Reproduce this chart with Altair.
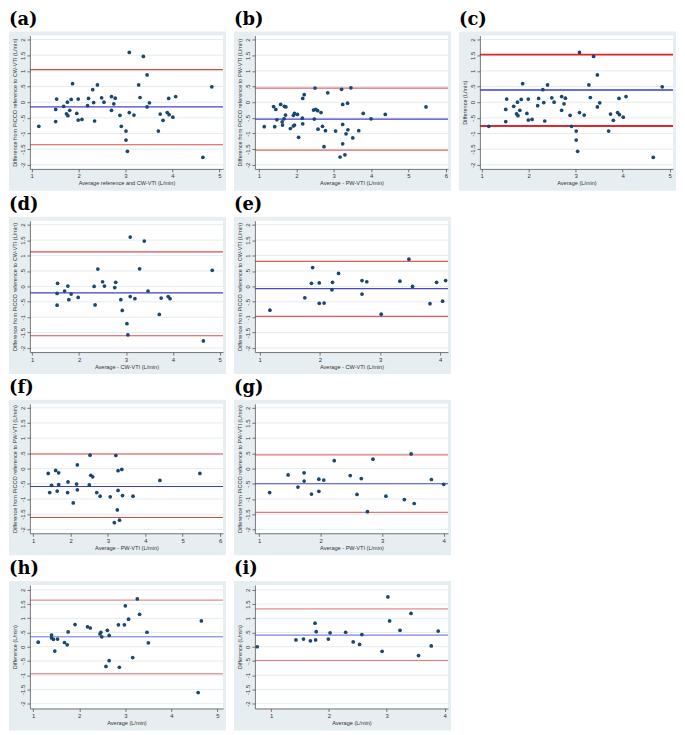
import altair as alt
import pandas as pd

# ---------------- data ----------------
a_x = [1.15, 1.51, 1.53, 1.51, 1.68, 1.74, 1.76, 1.77, 1.81, 1.84, 1.87, 1.96, 1.99, 1.99, 2.07,
       2.19, 2.21, 2.30, 2.32, 2.34, 2.40, 2.49, 2.54, 2.70, 2.70, 2.75, 2.78, 2.88, 2.91, 3.01,
       3.01, 3.04, 3.08, 3.08, 3.18, 3.28, 3.31, 3.38, 3.46, 3.46, 3.51, 3.70, 3.74, 3.80, 3.89,
       3.92, 3.93, 4.01, 4.07, 4.65, 4.84]
a_y = [-0.77, -0.23, 0.10, -0.62, -0.13, -0.37, 0.00, -0.43, -0.26, 0.09, 0.59, -0.36, 0.10, -0.57, -0.55,
       -0.11, 0.12, 0.40, -0.01, -0.60, 0.55, 0.14, 0.00, 0.18, -0.26, -0.05, 0.13, -0.42, -0.77, -0.92,
       -1.21, -1.57, 1.59, -0.33, -0.41, 0.55, 0.15, 1.46, 0.87, -0.15, -0.02, -0.92, -0.38, -0.58, -0.33,
       0.12, -0.40, -0.48, 0.18, -1.76, 0.49]
a_lines = [1.04, -0.15, -1.36]

b_x = [1.14, 1.39, 1.42, 1.45, 1.48, 1.58, 1.62, 1.63, 1.67, 1.68, 1.72, 1.71, 1.84, 1.92, 1.92,
       1.95, 1.95, 2.03, 2.06, 2.16, 2.17, 2.17, 2.21, 2.46, 2.48, 2.50, 2.52, 2.57, 2.58, 2.66,
       2.70, 2.74, 2.78, 2.84, 3.05, 3.17, 3.21, 3.24, 3.24, 3.24, 3.30, 3.33, 3.37, 3.38, 3.46,
       3.51, 3.67, 3.79, 4.00, 4.38, 5.47]
b_y = [-0.78, -0.14, -0.78, -0.23, -0.56, -0.07, -0.63, -0.73, -0.53, -0.13, -0.15, -0.41, -0.84, -0.42, -0.76,
       -0.36, -0.73, -0.39, -1.12, -0.51, -0.69, 0.12, 0.24, -0.25, -0.54, 0.45, -0.23, -0.27, -0.86, -0.33,
       -0.77, -1.42, -0.91, 0.30, -0.92, -1.75, 0.41, -0.07, -0.71, -1.33, -1.68, -1.01, -0.03, -0.88, 0.46,
       -1.14, -0.91, -0.36, -0.53, -0.39, -0.15]
b_lines = [0.45, -0.54, -1.53]

c_x = list(a_x)
c_y = list(a_y)
c_lines = [1.52, 0.39, -0.76]

d_x = [1.54, 1.53, 1.53, 1.69, 1.76, 1.78, 1.83, 1.98, 2.32, 2.34, 2.40, 2.50, 2.54, 2.76, 2.78,
       2.89, 2.92, 3.02, 3.04, 3.09, 3.09, 3.19, 3.29, 3.39, 3.47, 3.71, 3.75, 3.90, 3.94, 4.65, 4.84]
d_y = [0.10, -0.23, -0.61, -0.15, 0.01, -0.43, -0.25, -0.36, 0.00, -0.60, 0.56, 0.15, 0.01, -0.04, 0.13,
       -0.43, -0.78, -1.21, -1.57, 1.60, -0.33, -0.40, 0.57, 1.47, -0.15, -0.91, -0.38, -0.33, -0.40, -1.77, 0.52]
d_lines = [1.12, -0.21, -1.60]

e_x = [1.17, 1.75, 1.86, 1.88, 1.99, 1.99, 2.07, 2.20, 2.21, 2.31, 2.70, 2.70, 2.78, 3.02, 3.33,
       3.48, 3.54, 3.83, 3.94, 4.04, 4.09]
e_y = [-0.77, -0.37, 0.10, 0.61, 0.11, -0.55, -0.54, -0.11, 0.13, 0.42, 0.19, -0.25, 0.15, -0.90, 0.17,
       0.88, 0.00, -0.56, 0.13, -0.48, 0.19]
e_lines = [0.81, -0.07, -0.97]

f_x = [1.40, 1.44, 1.49, 1.60, 1.64, 1.68, 1.68, 1.92, 1.93, 2.07, 2.16, 2.18, 2.18, 2.50, 2.52,
       2.54, 2.59, 2.70, 2.79, 3.06, 3.17, 3.21, 3.27, 3.27, 3.25, 3.31, 3.37, 3.39, 3.67, 4.39, 5.46]
f_y = [-0.16, -0.79, -0.55, -0.06, -0.74, -0.14, -0.53, -0.79, -0.44, -1.13, -0.51, 0.12, -0.70, -0.54, 0.44,
       -0.22, -0.27, -0.79, -0.91, -0.93, -1.78, 0.43, -0.07, -0.72, -1.36, -1.70, -0.03, -0.89, -0.91, -0.39, -0.16]
f_lines = [0.48, -0.59, -1.61]

g_x = [1.17, 1.47, 1.63, 1.73, 1.73, 1.85, 1.97, 1.97, 2.05, 2.22, 2.48, 2.59, 2.66, 2.76, 2.85,
       3.06, 3.36, 3.47, 3.52, 3.80, 4.00]
g_y = [-0.79, -0.21, -0.61, -0.14, -0.41, -0.84, -0.35, -0.75, -0.38, 0.26, -0.23, -0.85, -0.33, -1.42, 0.31,
       -0.91, -1.02, 0.48, -1.15, -0.36, -0.52]
g_lines = [0.45, -0.50, -1.44]

h_x = [1.11, 1.40, 1.40, 1.44, 1.47, 1.53, 1.68, 1.74, 1.76, 1.91, 2.18, 2.24, 2.45, 2.47, 2.49,
       2.61, 2.65, 2.58, 2.65, 2.85, 2.87, 2.98, 3.00, 3.07, 3.16, 3.26, 3.31, 3.47, 3.50, 4.58, 4.65]
h_y = [0.16, 0.41, 0.31, 0.26, -0.15, 0.27, 0.15, 0.07, 0.52, 0.78, 0.70, 0.66, 0.45, 0.51, 0.35,
       0.58, 0.40, -0.69, -0.49, 0.77, -0.72, 0.77, 1.44, 0.97, -0.38, 1.68, 1.14, 0.51, 0.14, -1.61, 0.91]
h_lines = [1.64, 0.35, -0.95]

i_x = [0.76, 1.43, 1.56, 1.68, 1.76, 1.78, 1.77, 1.99, 2.02, 2.29, 2.42, 2.53, 2.57, 2.92, 3.02,
       3.05, 3.23, 3.42, 3.55, 3.77, 3.89]
i_y = [0.00, 0.24, 0.27, 0.21, 0.83, 0.53, 0.24, 0.27, 0.49, 0.51, 0.17, 0.08, 0.43, -0.16, 1.75,
       0.91, 0.58, 1.17, -0.31, 0.03, 0.55]
i_lines = [1.33, 0.41, -0.48]

ytick_values = [-2, -1.5, -1, -0.5, 0, 0.5, 1, 1.5, 2]
ytick_labels = ["-2", "-1.5", "-1", "-.5", "0", ".5", "1", "1.5", "2"]

xt_title_a = "Average reference and CW-VTI (L/min)"
xt_title_pw = "Average - PW-VTI (L/min)"
xt_title_cw = "Average - CW-VTI (L/min)"
xt_title_avg = "Average (L/min)"
yt_title_cw = "Difference from PiCCO reference to CW-VTI (L/min)"
yt_title_pw = "Difference from PiCCO reference to PW-VTI (L/min)"
yt_title_diff = "Difference (L/min)"

# ---------------- styling ----------------
NAVY = "#1a476f"
FRAME = "#e7eef1"
GRID = "#e4ecef"
FONT = "Liberation Sans"
SERIF = "DejaVu Serif, serif"
W = 194
L_EXT, R_EXT, T_EXT, B_EXT = 21, 3, 4, 22

label_expr = " : ".join(
    f"datum.value == {v} ? '{lab}'" for v, lab in zip(ytick_values, ytick_labels)
) + " : datum.label"


def panel(letter, xs, ys, lines, xdom, xticks, xtitle, ytitle, H, ydom,
          red, blue, lw_red, lw_blue):
    xscale = alt.Scale(domain=xdom, nice=False, zero=False)
    yscale = alt.Scale(domain=ydom, nice=False, zero=False)
    common = dict(domainColor="#555555", domainWidth=0.8, tickColor="#555555", tickWidth=0.8,
                  tickSize=3, labelFont=FONT, labelFontSize=6, labelColor="#333333",
                  titleFont=FONT, titleFontSize=5.6, titleFontWeight="normal",
                  titleColor="#333333", titlePadding=2, grid=False, zindex=1,
                  labelFlush=False)
    xaxis = alt.Axis(values=xticks, title=xtitle, format="d", labelPadding=1, **common)
    yaxis = alt.Axis(values=ytick_values, title=ytitle, labelExpr=label_expr,
                     labelAngle=270, labelAlign="center", labelBaseline="bottom",
                     labelPadding=1, **common)

    def X(f):
        return alt.X(f, type="quantitative", scale=xscale, axis=xaxis)

    def Y(f):
        return alt.Y(f, type="quantitative", scale=yscale, axis=yaxis)

    one = alt.Data(values=[{"o": 1}])
    frame = alt.Chart(one).mark_rect(color=FRAME).encode(
        x=alt.value(-L_EXT), x2=alt.value(W + R_EXT),
        y=alt.value(-T_EXT), y2=alt.value(H + B_EXT))
    plot_bg = alt.Chart(one).mark_rect(color="white").encode(
        x=alt.value(0), x2=alt.value(W), y=alt.value(0), y2=alt.value(H))
    grid = alt.Chart(pd.DataFrame({"v": ytick_values})).mark_rule(
        color=GRID, strokeWidth=1).encode(y=Y("v"))
    red_rules = alt.Chart(pd.DataFrame({"v": [lines[0], lines[2]]})).mark_rule(
        color=red, strokeWidth=lw_red).encode(y=Y("v"))
    blue_rule = alt.Chart(pd.DataFrame({"v": [lines[1]]})).mark_rule(
        color=blue, strokeWidth=lw_blue).encode(y=Y("v"))
    pts = alt.Chart(pd.DataFrame({"avg": xs, "diff": ys})).mark_circle(
        size=14, color=NAVY, opacity=1).encode(x=X("avg"), y=Y("diff"))

    return alt.layer(frame, plot_bg, grid, red_rules, blue_rule, pts).properties(
        width=W, height=H,
        title=alt.TitleParams(text=f"({letter})", anchor="start", font=SERIF,
                              fontSize=18, fontWeight="bold", color="black", offset=3))


yd = [-2.13, 2.13]
yd2 = [-2.17, 2.17]

pa = panel("a", a_x, a_y, a_lines, [0.96, 5.08], [1, 2, 3, 4, 5], xt_title_a, yt_title_cw, 134, yd,
           "#dc4b4b", "#4545c8", 1.1, 1.1)
pb = panel("b", b_x, b_y, b_lines, [0.89, 6.06], [1, 2, 3, 4, 5, 6], xt_title_pw, yt_title_pw, 134, yd,
           "#e06666", "#4040d0", 1.2, 1.2)
pc = panel("c", c_x, c_y, c_lines, [0.96, 5.07], [1, 2, 3, 4, 5], xt_title_avg, yt_title_diff, 134, yd,
           "#e3262a", "#3a3ad8", 1.8, 1.6)
pd_ = panel("d", d_x, d_y, d_lines, [0.95, 5.07], [1, 2, 3, 4, 5], xt_title_cw, yt_title_cw, 132, yd,
            "#dc4b4b", "#4040c0", 1.1, 1.1)
pe = panel("e", e_x, e_y, e_lines, [0.92, 4.13], [1, 2, 3, 4], xt_title_cw, yt_title_cw, 132, yd,
           "#e05a5a", "#4848cc", 1.3, 1.2)
pf = panel("f", f_x, f_y, f_lines, [0.91, 6.08], [1, 2, 3, 4, 5, 6], xt_title_pw, yt_title_pw, 130, yd,
           "#dc4a4a", "#3a3ac8", 1.1, 1.1)
pg = panel("g", g_x, g_y, g_lines, [0.93, 4.07], [1, 2, 3, 4], xt_title_pw, yt_title_pw, 130, yd,
           "#e07a7a", "#4848cc", 1.3, 1.2)
ph = panel("h", h_x, h_y, h_lines, [0.93, 5.12], [1, 2, 3, 4, 5], xt_title_avg, yt_title_diff, 124, yd2,
           "#e07070", "#6c6cd8", 1.0, 1.0)
pi = panel("i", i_x, i_y, i_lines, [0.72, 4.06], [1, 2, 3, 4], xt_title_avg, yt_title_diff, 124, yd2,
           "#e07070", "#6060d0", 1.0, 1.0)

chart = alt.vconcat(
    alt.hconcat(pa, pb, pc, spacing=6),
    alt.hconcat(pd_, pe, spacing=6),
    alt.hconcat(pf, pg, spacing=6),
    alt.hconcat(ph, pi, spacing=6),
    spacing=3,
).properties(padding=0, background="white").configure_view(
    stroke="transparent"
).configure_title(font=SERIF, fontWeight="bold", fontSize=18, anchor="start")

chart.save("out.html", embed_options={"renderer": "svg", "actions": False})
